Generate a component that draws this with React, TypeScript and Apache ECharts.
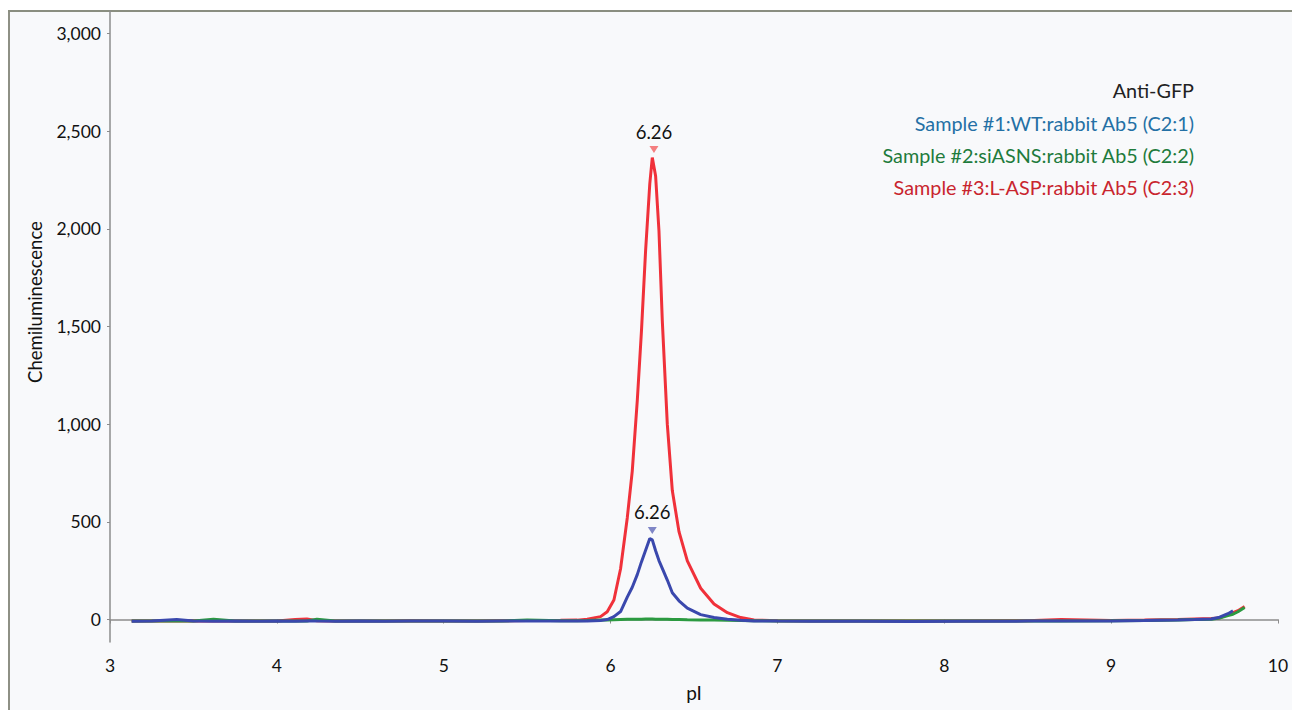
import React, { useEffect, useRef } from "react";
import * as echarts from "echarts";

// pI positions shared by the three traces
const pI = [
  3.13, 3.25, 3.4, 3.5, 3.62, 3.75, 3.9, 4.0, 4.11, 4.18,
  4.24, 4.35, 4.5, 4.65, 4.8, 5.0, 5.2, 5.35, 5.5, 5.7,
  5.8, 5.86, 5.94, 5.98, 6.02, 6.06, 6.1, 6.13, 6.16, 6.185,
  6.21, 6.235, 6.25, 6.27, 6.29, 6.31, 6.34, 6.37, 6.41, 6.46,
  6.54, 6.62, 6.7, 6.78, 6.86, 7.0, 7.2, 7.5, 7.8, 8.1,
  8.4, 8.5, 8.7, 9.0, 9.2, 9.4, 9.5, 9.6, 9.65, 9.7,
  9.73, 9.76, 9.8,
];

// Sample #1: WT (blue)
const sample1WT: (number | null)[] = [
  -9, -8, 0, -8, -9, -8, -9, -8, -9, -7,
  -8, -9, -8, -9, -8, -8, -9, -8, -8, -8,
  -8, -7, -5, 0, 15, 41, 115, 165, 230, 295,
  355, 415, 408, 352, 302, 262, 202, 137, 96, 58,
  25, 10, 2, -4, -7, -8, -9, -9, -10, -9,
  -9, -8, -8, -7, -5, -2, 0, 3, 12, 30,
  45, null, null,
];

// Sample #2: siASNS (green)
const sample2siASNS: (number | null)[] = [
  -8, -8, -8, -7, 2, -8, -8, -7, -8, -7,
  2, -8, -7, -8, -7, -7, -8, -7, -3, -6,
  -6, -5, -3, -2, -1, 0, 1, 1, 2, 2,
  3, 3, 3, 2, 2, 1, 1, 0, 0, -1,
  -2, -3, -4, -5, -6, -7, -8, -8, -8, -8,
  -8, -7, -7, -6, -5, -2, 0, 2, 8, 20,
  27, 40, 62,
];

// Sample #3: L-ASP (red)
const sample3LASP: (number | null)[] = [
  -8, -7, -8, -6, -7, -8, -7, -8, 0, 3,
  -6, -7, -8, -7, -6, -7, -8, -6, -5, -4,
  -3, 2, 15, 40, 100, 260, 520, 760, 1120, 1475,
  1890, 2230, 2365, 2270, 1990, 1530, 1000, 660, 450, 300,
  160, 80, 35, 10, -2, -6, -7, -8, -8, -7,
  -6, -6, 0, -5, -3, 0, 3, 5, 8, 25,
  35, 45, 67,
];

const yTicks = [0, 500, 1000, 1500, 2000, 2500, 3000];

const peakPI = [6.25, 6.26];
const peakValues = [415, 2365];
const peakLabels = ["6.26", "6.26"];

const legendTitle = "Anti-GFP";
const sampleNames = [
  "Sample #1:WT:rabbit Ab5 (C2:1)",
  "Sample #2:siASNS:rabbit Ab5 (C2:2)",
  "Sample #3:L-ASP:rabbit Ab5 (C2:3)",
];

const FONT = "Lato";
const TEXT = "#111111";
const AXIS = "#8c8c8c";

function toPairs(vals: (number | null)[]) {
  const out: [number, number][] = [];
  pI.forEach((x, i) => {
    const v = vals[i];
    if (v !== null && v !== undefined) out.push([x, v]);
  });
  return out;
}

export default function App() {
  const ref = useRef<HTMLDivElement>(null);

  useEffect(() => {
    document.body.style.margin = "0";
    const chart = echarts.init(ref.current!, undefined, {
      renderer: "svg",
      width: 1292,
      height: 710,
    });

    const tri = "path://M0,0L10,0L5,8Z";

    const option: any = {
      animation: false,
      backgroundColor: "#f8f9fb",
      grid: { left: 110, right: 14, top: 11, bottom: 68 },
      xAxis: {
        type: "value",
        min: 3,
        max: 10,
        interval: 1,
        name: "pI",
        nameLocation: "middle",
        nameGap: 41,
        nameTextStyle: { fontFamily: FONT, fontSize: 19, color: TEXT },
        axisLine: { show: true, lineStyle: { color: AXIS, width: 1.5 } },
        axisTick: { show: true, length: 4, lineStyle: { color: AXIS } },
        axisLabel: { fontFamily: FONT, fontSize: 17.5, color: TEXT, margin: 14 },
        splitLine: { show: false },
      },
      yAxis: {
        type: "value",
        min: -115,
        max: 3115,
        axisLine: { show: true, lineStyle: { color: AXIS, width: 1.5 } },
        axisTick: {
          show: true,
          length: 3,
          customValues: yTicks,
          lineStyle: { color: AXIS },
        },
        axisLabel: {
          customValues: yTicks,
          fontFamily: FONT,
          fontSize: 17.5,
          color: TEXT,
          margin: 9,
          formatter: (v: number) => v.toLocaleString("en-US"),
        },
        splitLine: { show: false },
      },
      series: [
        {
          name: sampleNames[2],
          type: "line",
          data: toPairs(sample3LASP),
          showSymbol: false,
          symbol: "none",
          lineStyle: { color: "#f0313a", width: 3 },
          z: 2,
          markPoint: {
            symbol: tri,
            symbolSize: [9, 7],
            symbolOffset: [0, -8],
            itemStyle: { color: "#f47f80" },
            label: {
              show: true,
              position: "top",
              distance: 5,
              formatter: peakLabels[1],
              fontFamily: FONT,
              fontSize: 18.5,
              color: TEXT,
            },
            data: [{ coord: [peakPI[1], peakValues[1]] }],
          },
        },
        {
          name: sampleNames[1],
          type: "line",
          data: toPairs(sample2siASNS),
          showSymbol: false,
          symbol: "none",
          lineStyle: { color: "#2b9a40", width: 3 },
          z: 3,
        },
        {
          name: sampleNames[0],
          type: "line",
          data: toPairs(sample1WT),
          showSymbol: false,
          symbol: "none",
          lineStyle: { color: "#3a48ad", width: 3 },
          z: 4,
          markPoint: {
            symbol: tri,
            symbolSize: [9, 7],
            symbolOffset: [0, -8],
            itemStyle: { color: "#7f86c6" },
            label: {
              show: true,
              position: "top",
              distance: 5,
              formatter: peakLabels[0],
              fontFamily: FONT,
              fontSize: 18.5,
              color: TEXT,
            },
            data: [{ coord: [peakPI[0], peakValues[0]] }],
          },
        },
      ],
      graphic: [
        { type: "rect", shape: { x: 0, y: 0, width: 8, height: 710 }, style: { fill: "#ffffff" }, silent: true },
        { type: "rect", shape: { x: 0, y: 0, width: 1292, height: 10 }, style: { fill: "#ffffff" }, silent: true },
        { type: "line", shape: { x1: 9, y1: 10, x2: 9, y2: 710 }, style: { stroke: "#8e9085", lineWidth: 2 }, silent: true },
        { type: "line", shape: { x1: 8, y1: 11, x2: 1292, y2: 11 }, style: { stroke: "#8a8e80", lineWidth: 2 }, silent: true },
        {
          type: "text",
          x: 35,
          y: 302,
          rotation: Math.PI / 2,
          style: {
            text: "Chemiluminescence",
            fontFamily: FONT,
            fontSize: 18.5,
            fill: TEXT,
            textAlign: "center",
            textVerticalAlign: "middle",
          },
        },
        {
          type: "text",
          x: 1194,
          y: 90,
          style: { text: legendTitle, fontFamily: FONT, fontSize: 19.8, fill: "#222222", textAlign: "right", textVerticalAlign: "middle" },
        },
        {
          type: "text",
          x: 1194,
          y: 122.5,
          style: { text: sampleNames[0], fontFamily: FONT, fontSize: 19.8, fill: "#2470a5", textAlign: "right", textVerticalAlign: "middle" },
        },
        {
          type: "text",
          x: 1194,
          y: 155,
          style: { text: sampleNames[1], fontFamily: FONT, fontSize: 19.8, fill: "#1e7b3c", textAlign: "right", textVerticalAlign: "middle" },
        },
        {
          type: "text",
          x: 1194,
          y: 187,
          style: { text: sampleNames[2], fontFamily: FONT, fontSize: 19.8, fill: "#c9252e", textAlign: "right", textVerticalAlign: "middle" },
        },
      ],
    };

    chart.setOption(option);
    return () => chart.dispose();
  }, []);

  return (
    <div
      ref={ref}
      style={{ position: "absolute", left: 0, top: 0, width: 1292, height: 710 }}
    />
  );
}
